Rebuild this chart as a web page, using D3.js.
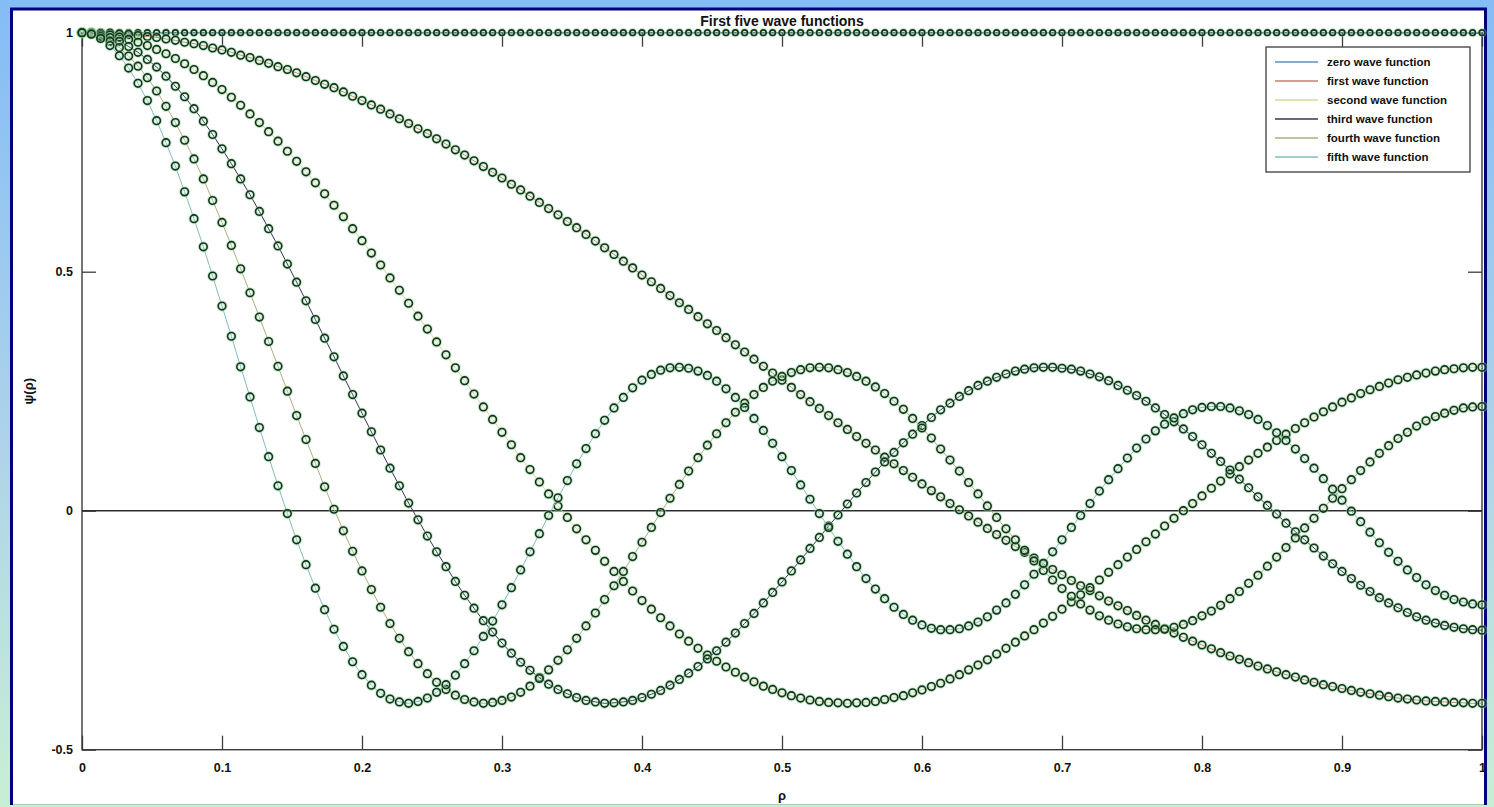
<!DOCTYPE html>
<html>
<head>
<meta charset="utf-8">
<script src="https://cdn.jsdelivr.net/npm/d3@7"></script>
<style>
  html, body { margin: 0; padding: 0; }
  body { width: 1494px; height: 807px; overflow: hidden; }
  svg { display: block; font-family: "Liberation Sans", Arial, sans-serif; }
</style>
</head>
<body>
<svg></svg>
<script>
const width = 1494;
const height = 807;

// sample points along rho
const rho = [
  0,0.0067,0.0133,0.02,0.0267,0.0333,0.04,0.0467,0.0533,0.06,0.0667,0.0733,0.08,0.0867,0.0933,0.1,0.1067,0.1133,0.12,0.1267,0.1333,0.14,0.1467,0.1533,0.16,0.1667,0.1733,0.18,0.1867,0.1933,
  0.2,0.2067,0.2133,0.22,0.2267,0.2333,0.24,0.2467,0.2533,0.26,0.2667,0.2733,0.28,0.2867,0.2933,0.3,0.3067,0.3133,0.32,0.3267,0.3333,0.34,0.3467,0.3533,0.36,0.3667,0.3733,0.38,0.3867,0.3933,
  0.4,0.4067,0.4133,0.42,0.4267,0.4333,0.44,0.4467,0.4533,0.46,0.4667,0.4733,0.48,0.4867,0.4933,0.5,0.5067,0.5133,0.52,0.5267,0.5333,0.54,0.5467,0.5533,0.56,0.5667,0.5733,0.58,0.5867,0.5933,
  0.6,0.6067,0.6133,0.62,0.6267,0.6333,0.64,0.6467,0.6533,0.66,0.6667,0.6733,0.68,0.6867,0.6933,0.7,0.7067,0.7133,0.72,0.7267,0.7333,0.74,0.7467,0.7533,0.76,0.7667,0.7733,0.78,0.7867,0.7933,
  0.8,0.8067,0.8133,0.82,0.8267,0.8333,0.84,0.8467,0.8533,0.86,0.8667,0.8733,0.88,0.8867,0.8933,0.9,0.9067,0.9133,0.92,0.9267,0.9333,0.94,0.9467,0.9533,0.96,0.9667,0.9733,0.98,0.9867,0.9933,
  1
];

const zeroWave = [
  1,1,1,1,1,1,1,1,1,1,1,1,1,1,1,1,1,1,1,1,1,1,1,1,1,1,1,1,1,1,
  1,1,1,1,1,1,1,1,1,1,1,1,1,1,1,1,1,1,1,1,1,1,1,1,1,1,1,1,1,1,
  1,1,1,1,1,1,1,1,1,1,1,1,1,1,1,1,1,1,1,1,1,1,1,1,1,1,1,1,1,1,
  1,1,1,1,1,1,1,1,1,1,1,1,1,1,1,1,1,1,1,1,1,1,1,1,1,1,1,1,1,1,
  1,1,1,1,1,1,1,1,1,1,1,1,1,1,1,1,1,1,1,1,1,1,1,1,1,1,1,1,1,1,
  1
];

const firstWave = [
  1.000,1.000,0.999,0.999,0.997,0.996,0.994,0.992,0.990,0.987,
  0.984,0.980,0.977,0.973,0.968,0.964,0.959,0.953,0.948,0.942,
  0.936,0.929,0.923,0.916,0.908,0.900,0.892,0.885,0.876,0.867,
  0.858,0.849,0.840,0.830,0.820,0.810,0.799,0.789,0.778,0.767,
  0.755,0.744,0.732,0.720,0.708,0.696,0.683,0.671,0.658,0.645,
  0.632,0.619,0.605,0.592,0.578,0.564,0.550,0.536,0.522,0.508,
  0.493,0.479,0.465,0.450,0.435,0.421,0.406,0.391,0.377,0.362,
  0.347,0.332,0.317,0.302,0.288,0.273,0.258,0.243,0.228,0.214,
  0.199,0.184,0.170,0.155,0.141,0.127,0.112,0.098,0.084,0.070,
  0.056,0.042,0.029,0.015,0.002,-0.011,-0.024,-0.037,-0.050,-0.062,
  -0.075,-0.087,-0.099,-0.111,-0.123,-0.134,-0.146,-0.157,-0.167,-0.178,
  -0.189,-0.199,-0.209,-0.219,-0.229,-0.238,-0.247,-0.256,-0.265,-0.273,
  -0.281,-0.289,-0.297,-0.304,-0.311,-0.318,-0.325,-0.331,-0.337,-0.343,
  -0.348,-0.354,-0.359,-0.364,-0.368,-0.372,-0.376,-0.380,-0.383,-0.386,
  -0.389,-0.392,-0.394,-0.396,-0.398,-0.399,-0.400,-0.401,-0.402,-0.403,-0.403
];

const secondWave = [
  1.000,0.999,0.998,0.995,0.991,0.986,0.980,0.973,0.965,0.956,
  0.946,0.935,0.923,0.910,0.896,0.881,0.865,0.848,0.830,0.812,
  0.793,0.773,0.752,0.731,0.709,0.686,0.663,0.639,0.615,0.590,
  0.565,0.539,0.514,0.487,0.461,0.434,0.407,0.380,0.353,0.326,
  0.299,0.272,0.244,0.217,0.191,0.164,0.138,0.111,0.086,0.060,
  0.035,0.010,-0.014,-0.038,-0.061,-0.083,-0.106,-0.127,-0.148,-0.168,
  -0.188,-0.206,-0.224,-0.241,-0.258,-0.273,-0.288,-0.302,-0.315,-0.327,
  -0.338,-0.348,-0.358,-0.367,-0.374,-0.381,-0.387,-0.392,-0.396,-0.399,
  -0.401,-0.402,-0.403,-0.402,-0.401,-0.399,-0.395,-0.391,-0.387,-0.381,
  -0.375,-0.368,-0.361,-0.352,-0.343,-0.333,-0.323,-0.312,-0.300,-0.288,
  -0.275,-0.262,-0.249,-0.235,-0.221,-0.206,-0.191,-0.176,-0.161,-0.145,
  -0.129,-0.113,-0.097,-0.081,-0.065,-0.049,-0.032,-0.016,0.000,0.015,
  0.031,0.047,0.062,0.077,0.092,0.106,0.120,0.133,0.147,0.160,
  0.172,0.184,0.196,0.207,0.217,0.227,0.236,0.245,0.253,0.260,
  0.267,0.274,0.279,0.284,0.288,0.292,0.295,0.297,0.299,0.300,0.300
];

const thirdWave = [
  1.000,0.999,0.995,0.990,0.982,0.971,0.959,0.944,0.928,0.909,
  0.888,0.866,0.841,0.815,0.787,0.757,0.726,0.694,0.661,0.626,
  0.590,0.554,0.516,0.478,0.439,0.400,0.361,0.322,0.282,0.243,
  0.204,0.165,0.127,0.089,0.052,0.016,-0.019,-0.053,-0.086,-0.117,
  -0.148,-0.177,-0.204,-0.230,-0.254,-0.277,-0.298,-0.317,-0.334,-0.349,
  -0.363,-0.374,-0.383,-0.391,-0.397,-0.400,-0.403,-0.402,-0.400,-0.397,
  -0.391,-0.384,-0.376,-0.365,-0.353,-0.340,-0.326,-0.310,-0.293,-0.275,
  -0.256,-0.236,-0.215,-0.193,-0.171,-0.149,-0.126,-0.103,-0.079,-0.056,
  -0.032,-0.009,0.014,0.037,0.059,0.081,0.102,0.122,0.142,0.160,
  0.178,0.195,0.211,0.225,0.239,0.251,0.262,0.271,0.279,0.286,
  0.292,0.296,0.299,0.300,0.300,0.298,0.296,0.292,0.286,0.280,
  0.272,0.262,0.252,0.241,0.229,0.215,0.201,0.186,0.171,0.155,
  0.138,0.120,0.103,0.085,0.066,0.048,0.029,0.011,-0.007,-0.026,
  -0.044,-0.061,-0.078,-0.095,-0.111,-0.127,-0.142,-0.156,-0.169,-0.182,
  -0.193,-0.203,-0.213,-0.222,-0.229,-0.235,-0.240,-0.244,-0.247,-0.249,-0.250
];

const fourthWave = [
  1.000,0.998,0.992,0.982,0.969,0.951,0.930,0.906,0.878,0.846,
  0.812,0.775,0.736,0.694,0.649,0.603,0.555,0.506,0.456,0.405,
  0.354,0.302,0.250,0.199,0.149,0.099,0.050,0.003,-0.042,-0.085,
  -0.126,-0.165,-0.202,-0.236,-0.267,-0.295,-0.320,-0.341,-0.359,-0.374,
  -0.386,-0.395,-0.400,-0.403,-0.401,-0.397,-0.390,-0.380,-0.367,-0.351,
  -0.333,-0.313,-0.291,-0.267,-0.241,-0.214,-0.186,-0.157,-0.127,-0.096,
  -0.066,-0.035,-0.004,0.026,0.055,0.083,0.111,0.137,0.161,0.184,
  0.206,0.225,0.243,0.258,0.271,0.281,0.289,0.295,0.299,0.300,
  0.299,0.295,0.289,0.281,0.271,0.259,0.245,0.229,0.212,0.193,
  0.173,0.152,0.129,0.106,0.083,0.059,0.035,0.010,-0.014,-0.038,
  -0.061,-0.083,-0.105,-0.125,-0.145,-0.163,-0.179,-0.195,-0.208,-0.220,
  -0.229,-0.237,-0.243,-0.247,-0.249,-0.249,-0.248,-0.244,-0.238,-0.230,
  -0.220,-0.210,-0.198,-0.184,-0.169,-0.152,-0.135,-0.116,-0.097,-0.077,
  -0.057,-0.036,-0.016,0.005,0.026,0.046,0.065,0.084,0.102,0.120,
  0.136,0.151,0.164,0.177,0.188,0.197,0.204,0.210,0.215,0.217,0.218
];

const fifthWave = [
  1.000,0.997,0.988,0.973,0.952,0.926,0.894,0.858,0.816,0.770,
  0.721,0.667,0.611,0.552,0.491,0.428,0.365,0.301,0.238,0.174,
  0.113,0.052,-0.006,-0.061,-0.113,-0.162,-0.207,-0.248,-0.284,-0.316,
  -0.343,-0.365,-0.382,-0.394,-0.400,-0.403,-0.399,-0.392,-0.380,-0.364,
  -0.344,-0.320,-0.293,-0.263,-0.231,-0.197,-0.161,-0.124,-0.086,-0.048,
  -0.010,0.027,0.063,0.098,0.130,0.161,0.189,0.215,0.237,0.257,
  0.273,0.285,0.294,0.299,0.300,0.298,0.292,0.283,0.271,0.255,
  0.237,0.216,0.193,0.168,0.141,0.113,0.084,0.054,0.024,-0.006,
  -0.035,-0.064,-0.091,-0.117,-0.142,-0.164,-0.184,-0.202,-0.217,-0.229,
  -0.239,-0.246,-0.249,-0.249,-0.247,-0.241,-0.233,-0.222,-0.208,-0.193,
  -0.175,-0.155,-0.133,-0.110,-0.086,-0.061,-0.035,-0.010,0.015,0.041,
  0.065,0.088,0.110,0.131,0.150,0.167,0.181,0.194,0.203,0.211,
  0.216,0.218,0.218,0.215,0.209,0.201,0.191,0.178,0.163,0.147,
  0.129,0.109,0.089,0.067,0.045,0.022,-0.001,-0.023,-0.045,-0.067,
  -0.087,-0.106,-0.124,-0.140,-0.155,-0.167,-0.177,-0.186,-0.191,-0.195,-0.197
];

const seriesNames = [
  "zero wave function",
  "first wave function",
  "second wave function",
  "third wave function",
  "fourth wave function",
  "fifth wave function"
];
const lineColors = ["#5f8fb8", "#c4826c", "#e0d39a", "#34345e", "#aeae80", "#84bcbc"];

const xTicks = [0, 0.1, 0.2, 0.3, 0.4, 0.5, 0.6, 0.7, 0.8, 0.9, 1];
const xTickLabels = ["0", "0.1", "0.2", "0.3", "0.4", "0.5", "0.6", "0.7", "0.8", "0.9", "1"];
const yTicks = [-0.5, 0, 0.5, 1];
const yTickLabels = ["-0.5", "0", "0.5", "1"];

const plotLeft = 82;
const plotRight = 1482;
const plotTop = 32.7;
const plotBottom = 749.7;

const svg = d3.select("svg").attr("width", width).attr("height", height);

// window background and frame
const defs = svg.append("defs");
const grad = defs.append("linearGradient").attr("id", "bg").attr("x1", 0).attr("y1", 0).attr("x2", 0).attr("y2", 1);
grad.append("stop").attr("offset", "0%").attr("stop-color", "#84bcf6");
grad.append("stop").attr("offset", "55%").attr("stop-color", "#aed3ea");
grad.append("stop").attr("offset", "100%").attr("stop-color", "#c8efd4");

svg.append("rect").attr("width", width).attr("height", height).attr("fill", "url(#bg)");
svg.append("rect").attr("x", 13).attr("y", 10).attr("width", 1471).attr("height", 794).attr("fill", "#ffffff");
svg.append("path")
  .attr("d", "M11.5,805 L11.5,9 L1485.5,9 L1485.5,805")
  .attr("fill", "none")
  .attr("stroke", "#00007c")
  .attr("stroke-width", 3);
svg.append("line").attr("x1", 13).attr("x2", 1484).attr("y1", 804.5).attr("y2", 804.5)
  .attr("stroke", "#a9cdb8").attr("stroke-width", 1);

const xScale = d3.scaleLinear().domain([0, 1]).range([plotLeft, plotRight]);
const yScale = d3.scaleLinear().domain([-0.5, 1]).range([plotBottom, plotTop]);

// axes, MATLAB style inward ticks on all four sides
const tickLen = 14;
const fmtX = (d, i) => xTickLabels[i];
const fmtY = (d, i) => yTickLabels[i];

const styleAxis = (g) => {
  g.select(".domain").remove();
  g.selectAll(".tick line").attr("stroke", "#3c3c3c").attr("stroke-width", 1.3);
  g.selectAll(".tick text")
    .attr("fill", "#111")
    .attr("font-size", 12.5)
    .attr("font-weight", "bold");
};

svg.append("g")
  .attr("transform", "translate(0," + plotBottom + ")")
  .call(d3.axisBottom(xScale).tickValues(xTicks).tickFormat(fmtX).tickSizeInner(-tickLen).tickSizeOuter(0).tickPadding(13))
  .call(styleAxis);

svg.append("g")
  .attr("transform", "translate(0," + plotTop + ")")
  .call(d3.axisTop(xScale).tickValues(xTicks).tickFormat("").tickSizeInner(-tickLen).tickSizeOuter(0))
  .call(styleAxis);

svg.append("g")
  .attr("transform", "translate(" + plotLeft + ",0)")
  .call(d3.axisLeft(yScale).tickValues(yTicks).tickFormat(fmtY).tickSizeInner(-tickLen).tickSizeOuter(0).tickPadding(9))
  .call(styleAxis);

svg.append("g")
  .attr("transform", "translate(" + plotRight + ",0)")
  .call(d3.axisRight(yScale).tickValues(yTicks).tickFormat("").tickSizeInner(-tickLen).tickSizeOuter(0))
  .call(styleAxis);

// axes box
svg.append("rect")
  .attr("x", plotLeft).attr("y", plotTop)
  .attr("width", plotRight - plotLeft).attr("height", plotBottom - plotTop)
  .attr("fill", "none").attr("stroke", "#3a3a3a").attr("stroke-width", 1.4);

// zero line
svg.append("line")
  .attr("x1", xScale(0)).attr("x2", xScale(1))
  .attr("y1", yScale(0)).attr("y2", yScale(0))
  .attr("stroke", "#2e2e2e").attr("stroke-width", 1.6);

// curves with circle markers
const series = [zeroWave, firstWave, secondWave, thirdWave, fourthWave, fifthWave];
const line = d3.line().x((d) => xScale(d[0])).y((d) => yScale(d[1]));

series.forEach((vals, k) => {
  const pts = rho.map((r, i) => [r, vals[i]]);
  const g = svg.append("g").attr("class", "series-" + k);
  const rad = k === 0 ? 2.8 : 3.8;

  g.append("path")
    .datum(pts)
    .attr("d", line)
    .attr("fill", "none")
    .attr("stroke", lineColors[k])
    .attr("stroke-width", 1);

  // soft green halo as in the original image
  g.selectAll("circle.halo")
    .data(pts)
    .join("circle")
    .attr("class", "halo")
    .attr("cx", (d) => xScale(d[0]))
    .attr("cy", (d) => yScale(d[1]))
    .attr("r", rad)
    .attr("fill", "none")
    .attr("stroke", "#93dc99")
    .attr("stroke-opacity", 0.5)
    .attr("stroke-width", 3.6);

  g.selectAll("circle.mark")
    .data(pts)
    .join("circle")
    .attr("class", "mark")
    .attr("cx", (d) => xScale(d[0]))
    .attr("cy", (d) => yScale(d[1]))
    .attr("r", rad)
    .attr("fill", "none")
    .attr("stroke", "#143320")
    .attr("stroke-width", 1.6);
});

// title and axis labels
svg.append("text")
  .attr("x", xScale(0.5)).attr("y", 26)
  .attr("text-anchor", "middle")
  .attr("font-size", 14)
  .attr("font-weight", "bold")
  .attr("fill", "#111")
  .text("First five wave functions");

svg.append("text")
  .attr("x", xScale(0.5)).attr("y", 800)
  .attr("text-anchor", "middle")
  .attr("font-size", 13)
  .attr("font-weight", "bold")
  .attr("fill", "#111")
  .text("ρ");

svg.append("text")
  .attr("transform", "translate(33," + yScale(0.25) + ") rotate(-90)")
  .attr("text-anchor", "middle")
  .attr("font-size", 13)
  .attr("font-weight", "bold")
  .attr("fill", "#111")
  .text("ψ(ρ)");

// legend
const legend = svg.append("g").attr("transform", "translate(1266,47)");
legend.append("rect")
  .attr("width", 204).attr("height", 125)
  .attr("fill", "#ffffff")
  .attr("stroke", "#2a2a2a").attr("stroke-width", 1.2);

seriesNames.forEach((name, i) => {
  const yy = 15 + i * 19;
  legend.append("line")
    .attr("x1", 9).attr("x2", 52).attr("y1", yy).attr("y2", yy)
    .attr("stroke", lineColors[i]).attr("stroke-width", 1.6);
  legend.append("text")
    .attr("x", 61).attr("y", yy + 4)
    .attr("font-size", 11.5)
    .attr("font-weight", "bold")
    .attr("fill", "#111")
    .text(name);
});
</script>
</body>
</html>
